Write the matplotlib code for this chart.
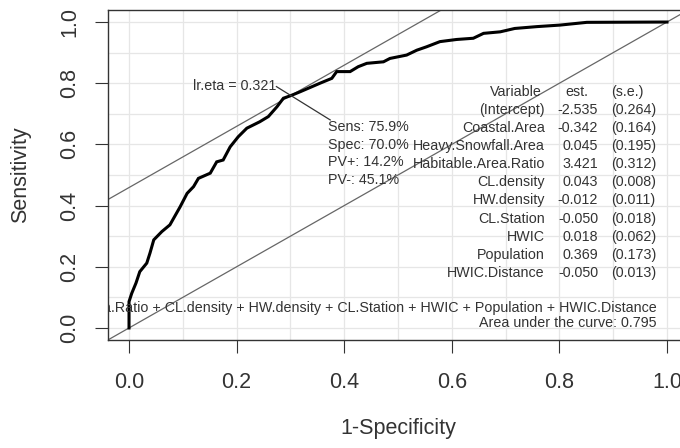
import matplotlib
matplotlib.use('Agg')
import matplotlib.pyplot as plt
import numpy as np

plt.rcParams['font.family'] = ['Liberation Sans', 'DejaVu Sans']

# ROC curve: 1-Specificity (x) and Sensitivity (y)
fpr = [0.0, 0.0, 0.005, 0.013, 0.020, 0.033, 0.039, 0.046, 0.061, 0.076,
       0.095, 0.108, 0.120, 0.129, 0.151, 0.163, 0.175, 0.188, 0.203, 0.219,
       0.243, 0.259, 0.275, 0.287, 0.300, 0.318, 0.355, 0.377, 0.386, 0.411,
       0.426, 0.442, 0.473, 0.485, 0.516, 0.535, 0.553, 0.578, 0.609, 0.640,
       0.659, 0.690, 0.717, 0.758, 0.801, 0.851, 0.996, 1.0]
tpr = [0.0, 0.086, 0.113, 0.147, 0.184, 0.212, 0.245, 0.288, 0.315, 0.337,
       0.396, 0.440, 0.462, 0.489, 0.506, 0.543, 0.549, 0.592, 0.625, 0.653,
       0.674, 0.691, 0.723, 0.751, 0.759, 0.772, 0.800, 0.816, 0.838, 0.838,
       0.854, 0.865, 0.870, 0.881, 0.892, 0.908, 0.919, 0.936, 0.943, 0.947,
       0.963, 0.968, 0.979, 0.985, 0.990, 0.999, 1.0, 1.0]

# Optimal cut-off summary
lr_eta = 0.321
sens = 75.9
spec = 70.0
pv_pos = 14.2
pv_neg = 45.1
auc = 0.795

# Model table
variables = ['(Intercept)', 'Coastal.Area', 'Heavy.Snowfall.Area', 'Habitable.Area.Ratio',
             'CL.density', 'HW.density', 'CL.Station', 'HWIC', 'Population', 'HWIC.Distance']
est = [-2.535, -0.342, 0.045, 3.421, 0.043, -0.012, -0.050, 0.018, 0.369, -0.050]
se = [0.264, 0.164, 0.195, 0.312, 0.008, 0.011, 0.018, 0.062, 0.173, 0.013]

formula = ('lr.eta ~ Coastal.Area + Heavy.Snowfall.Area + Habitable.Area.Ratio + CL.density + '
           'HW.density + CL.Station + HWIC + Population + HWIC.Distance')

ticks = [0.0, 0.2, 0.4, 0.6, 0.8, 1.0]
tick_labels = ['0.0', '0.2', '0.4', '0.6', '0.8', '1.0']

W, H = 680, 448
fig = plt.figure(figsize=(W / 100, H / 100), dpi=100)
# axes box: left 107.5px, right 688.5px (beyond figure), top 9.8px, bottom 340.2px
ax = fig.add_axes([107.5 / W, (H - 340.2) / H, 581.0 / W, 330.4 / H])
ax.set_xlim(-0.04, 1.04)
ax.set_ylim(-0.04, 1.04)

# grid
g = np.arange(0, 1.01, 0.1)
for v in g:
    ax.axvline(v, color='#e6e6e6', lw=0.9, zorder=0)
    ax.axhline(v, color='#e6e6e6', lw=0.9, zorder=0)

# reference lines
ax.axline((0, 0), slope=1, color='#666666', lw=0.9, zorder=1)
opt_x = 1 - spec / 100
opt_y = sens / 100
ax.axline((opt_x, opt_y), slope=1, color='#666666', lw=0.9, zorder=1)

# ROC curve
ax.plot(fpr, tpr, color='black', lw=2.2, zorder=3, solid_joinstyle='miter')

fs_in = 10.3
tc = '#333333'
# optimum annotation
ax.plot([opt_x - 0.026, opt_x + 0.074], [opt_y + 0.030, opt_y - 0.079],
        color='#333333', lw=0.9, zorder=4)
ax.text(opt_x - 0.026, opt_y + 0.032, f'lr.eta = {lr_eta:.3f}', ha='right', va='center',
        fontsize=fs_in, color=tc)
info = [f'Sens: {sens:.1f}%', f'Spec: {spec:.1f}%', f'PV+: {pv_pos:.1f}%', f'PV-: {pv_neg:.1f}%']
for i, s in enumerate(info):
    ax.text(0.370, 0.657 - i * 0.0575, s, ha='left', va='center', fontsize=fs_in, color=tc)

# model table
y0 = 0.772
dy = 0.0592
ax.text(0.768, y0, 'Variable', ha='right', va='center', fontsize=fs_in, color=tc)
ax.text(0.833, y0, 'est.', ha='center', va='center', fontsize=fs_in, color=tc)
ax.text(0.896, y0, '(s.e.)', ha='left', va='center', fontsize=fs_in, color=tc)
for i, (nm, e, s) in enumerate(zip(variables, est, se)):
    yy = y0 - (i + 1) * dy
    ax.text(0.773, yy, nm, ha='right', va='center', fontsize=fs_in, color=tc)
    ax.text(0.872, yy, f'{e:.3f}', ha='right', va='center', fontsize=fs_in, color=tc)
    ax.text(0.896, yy, f'({s:.3f})', ha='left', va='center', fontsize=fs_in, color=tc)

ax.text(0.981, 0.066, formula, ha='right', va='center', fontsize=fs_in, color=tc, clip_on=True)
ax.text(0.981, 0.016, f'Area under the curve: {auc:.3f}', ha='right', va='center',
        fontsize=fs_in, color=tc)

# axes styling
for sp in ax.spines.values():
    sp.set_color('#333333')
    sp.set_linewidth(1.0)
ax.set_xticks(ticks)
ax.set_xticklabels(tick_labels)
ax.set_yticks(ticks)
ax.set_yticklabels(tick_labels, rotation=90, va='center')
ax.tick_params(axis='both', length=9.4, width=0.8, color='#333333', labelsize=15.5,
               labelcolor='#333333')
ax.tick_params(axis='x', pad=13.5)
ax.tick_params(axis='y', pad=10)

ax.set_xlabel('1-Specificity', fontsize=15.5, color='#333333', va='center')
ax.xaxis.set_label_coords(0.5, -0.266)
ax.set_ylabel('Sensitivity', fontsize=15.5, color='#333333', va='center')
ax.yaxis.set_label_coords(-0.150, 0.5)

fig.savefig('out.png', dpi=100)
